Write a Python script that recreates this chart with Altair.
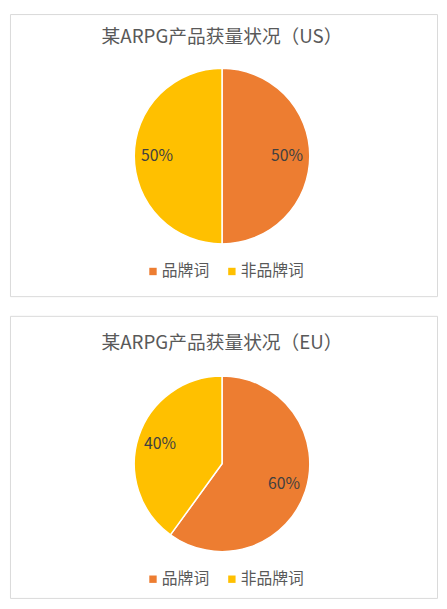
import altair as alt
import pandas as pd

categories = ["品牌词", "非品牌词"]
colors = ["#ED7D31", "#FFC000"]
us_values = [50, 50]
eu_values = [60, 40]
titles = ["某ARPG产品获量状况（US）", "某ARPG产品获量状况（EU）"]

FONT = "Noto Sans CJK SC"
W = 433


def panel(values, title, h, title_y, cx, cy, legend_y):
    df = pd.DataFrame({
        "category": categories,
        "value": values,
        "idx": list(range(len(categories))),
        "label": [f"{v}%" for v in values],
    })
    base = alt.Chart(df).encode(
        theta=alt.Theta("value:Q", stack=True),
        order=alt.Order("idx:Q"),
    )
    arcs = base.mark_arc(outerRadius=89, stroke="white", strokeWidth=1.5).encode(
        x=alt.value(cx),
        y=alt.value(cy),
        color=alt.Color(
            "category:N",
            sort=categories,
            scale=alt.Scale(domain=categories, range=colors),
            legend=alt.Legend(
                orient="none",
                legendX=137,
                legendY=legend_y - 10,
                direction="horizontal",
                title=None,
                symbolType="square",
                symbolSize=56,
                symbolStrokeWidth=0,
                labelFont=FONT,
                labelFontSize=16,
                labelColor="#595959",
                labelOffset=1,
                columnPadding=14,
            ),
        ),
    )
    labels = base.mark_text(radius=66, font=FONT, fontSize=16, color="#404040").encode(
        x=alt.value(cx),
        y=alt.value(cy),
        text="label:N",
    )
    ttl = alt.Chart(pd.DataFrame({"t": [title]})).mark_text(
        font=FONT, fontSize=19, color="#595959"
    ).encode(x=alt.value(cx), y=alt.value(title_y), text="t:N")
    return alt.layer(arcs, labels, ttl).properties(width=W, height=h)


p1 = panel(us_values, titles[0], 286, 23, 215, 144, 263)
p2 = panel(eu_values, titles[1], 286, 28, 215, 150, 269)

chart = (
    alt.vconcat(p1, p2, spacing=18)
    .resolve_scale(color="independent")
    .resolve_legend(color="independent")
    .properties(padding=1, background="white")
    .configure_view(stroke="#D9D9D9", strokeWidth=1)
)

chart.save("out.html", embed_options={"renderer": "svg", "actions": False})
